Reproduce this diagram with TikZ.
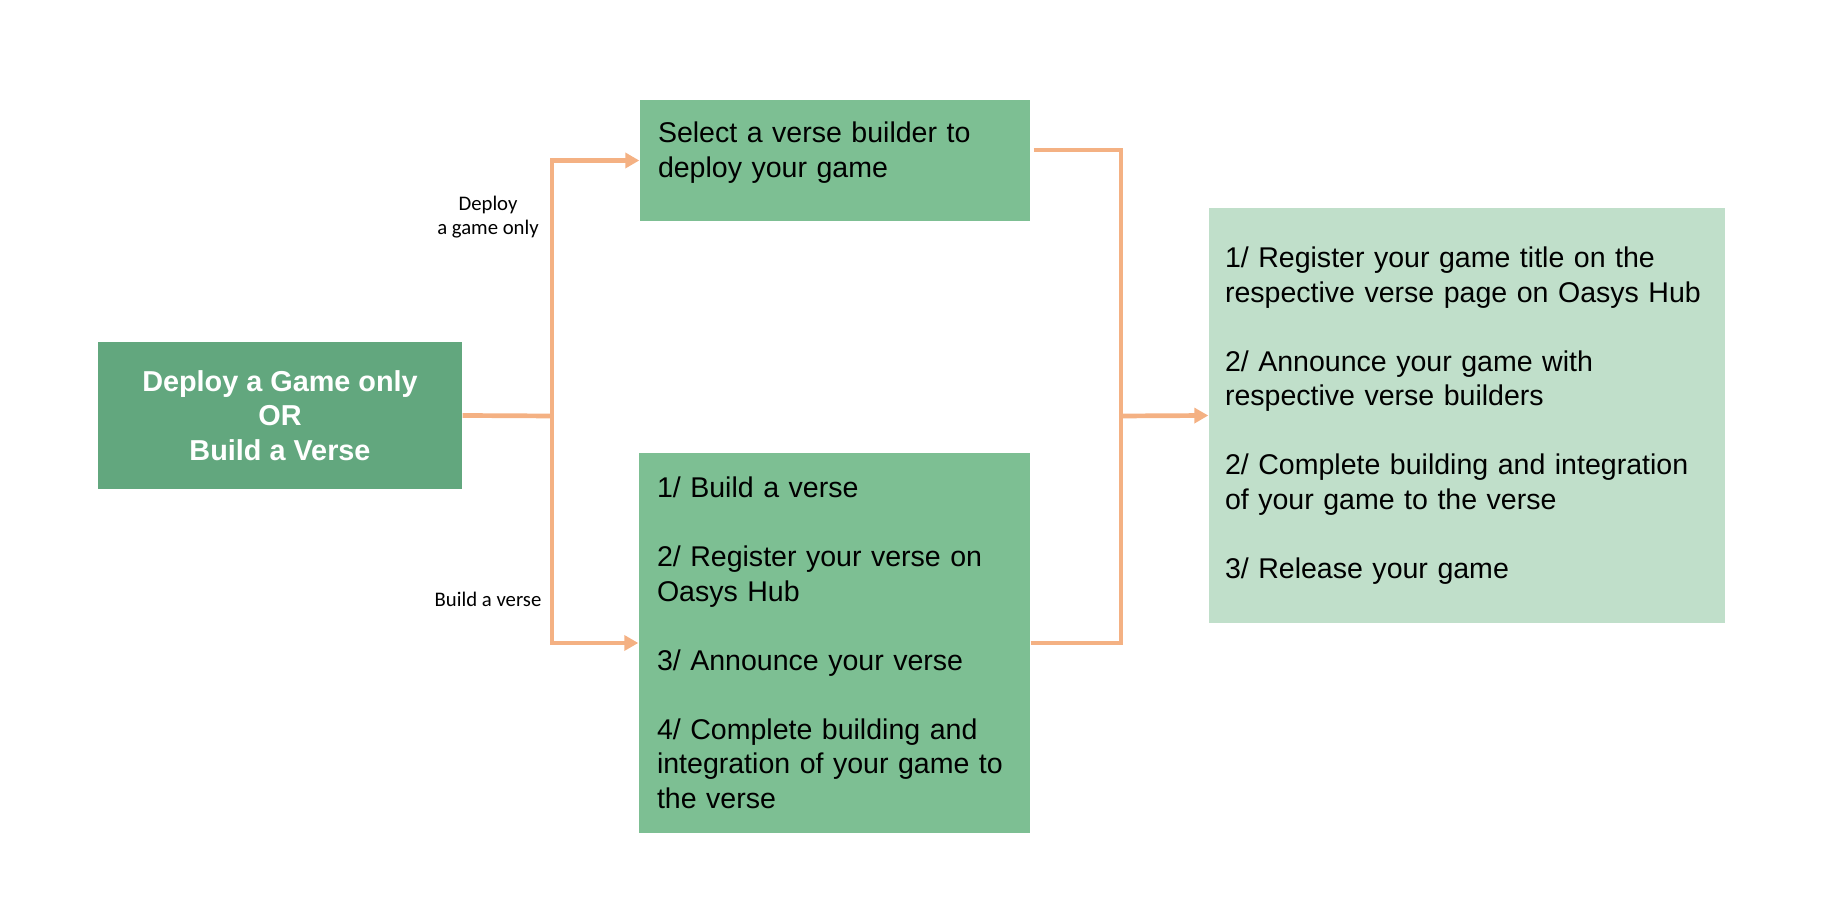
\documentclass[tikz,border=0pt]{standalone}
\usepackage{fontspec}
\setmainfont{Liberation Sans}
\newfontfamily\labelfont{Carlito}
\usetikzlibrary{arrows.meta}
\definecolor{darkgreen}{HTML}{62A77E}
\definecolor{midgreen}{HTML}{7DBF93}
\definecolor{lightgreen}{HTML}{C0DFCA}
\definecolor{peach}{HTML}{F4B183}

\begin{document}
\begin{tikzpicture}[
    box/.style={inner xsep=0.18cm, inner ysep=0pt, align=left, font=\fontsize{8.12pt}{9.82pt}\selectfont},
    link/.style={draw=peach, line width=0.047cm},
    tip/.style={link, -{Triangle[length=0.14cm,width=0.15cm]}},
    side/.style={font=\labelfont\fontsize{5.9pt}{6.85pt}\selectfont, align=center, inner sep=0pt}
]
    \useasboundingbox (0,0) rectangle (18.32,-9.16);
    \node[box, fill=darkgreen, text=white, align=center, minimum width=3.64cm, minimum height=1.47cm, font=\bfseries\fontsize{8.2pt}{9.82pt}\selectfont] (choice) at (2.80,-4.155) {Deploy a Game only\\OR\\Build a Verse};
    \node[box, fill=midgreen, text width=3.54cm, minimum height=1.21cm, text depth=16.1pt] (select) at (8.35,-1.605) {Select a verse builder to\\deploy your game};
    \node[box, fill=midgreen, text width=3.55cm, minimum height=3.80cm] (build) at (8.345,-6.43) {1/ Build a verse\\[9.82pt]2/ Register your verse on\\Oasys Hub\\[9.82pt]3/ Announce your verse\\[9.82pt]4/ Complete building and\\integration of your game to\\the verse};
    \node[box, fill=lightgreen, inner xsep=0.16cm, text width=4.84cm, minimum height=4.15cm] (release) at (14.67,-4.155) {1/ Register your game title on the\\respective verse page on Oasys Hub\\[9.82pt]2/ Announce your game with\\respective verse builders\\[9.82pt]2/ Complete building and integration\\of your game to the verse\\[9.82pt]3/ Release your game};
    \node[side] (deploylbl) at (4.88,-2.17) {Deploy\\a game only};
    \node[side] (buildlbl) at (4.88,-5.99) {Build a verse};
    \coordinate (split) at (5.52,-4.16);
    \coordinate (join) at (11.21,-4.16);
    \draw[link] (choice.east) -- (split);
    \draw[tip] (split) |- (select.west);
    \draw[tip] (split) |- (build.west);
    \draw[link] ([xshift=0.03cm,yshift=0.105cm]select.east) -| (join);
    \draw[link] (build.east) -| (join);
    \draw[tip] (join) -- (release.west);
\end{tikzpicture}
\end{document}
